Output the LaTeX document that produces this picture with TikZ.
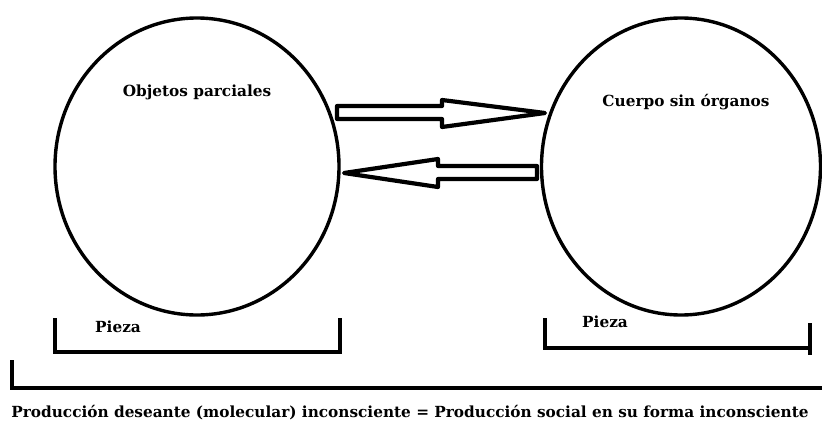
\documentclass[tikz,border=0pt]{standalone}
\usepackage{fontspec}
\setmainfont{DejaVu Serif}
\usetikzlibrary{shapes.geometric,calc}
\begin{document}
\begin{tikzpicture}[x=1pt,y=-1pt]
        \tikzset{blob/.style = {shape=ellipse,draw,line width=3.4pt,inner sep=0pt}}
        \tikzset{label/.style = {font=\bfseries\fontsize{15.3}{17}\selectfont,inner sep=0pt}}
        \tikzset{thick line/.style = {line width=4.2pt}}
        \useasboundingbox (0,0) rectangle (822,434);
        % the two circles
        \node[blob,minimum width=284pt,minimum height=297pt] (op) at (197,166.5) {};
        \node[blob,minimum width=279pt,minimum height=297pt] (cso) at (681,166.5) {};
        \node[label] (opt) at (197,92) {Objetos parciales};
        \node[label] (csot) at (686,102) {Cuerpo sin órganos};
        % hollow arrows between them
        \coordinate (a1) at (337,112.5);
        \coordinate (a2) at (545,113);
        \coordinate (b1) at (537,172.5);
        \coordinate (b2) at (344,173);
        \draw[thick line,line join=round] ($(a1)+(0,-6.5)$) -- (442,106) -- (442,100) -- (a2)
             -- (442,127) -- (442,119) -- ($(a1)+(0,6.5)$) -- cycle;
        \draw[thick line,line join=round] ($(b1)+(0,-6.5)$) -- (438,166) -- (438,159) -- (b2)
             -- (438,187) -- (438,179) -- ($(b1)+(0,6.5)$) -- cycle;
        % brackets under each circle
        \coordinate (l1) at (55,318);
        \coordinate (l2) at (340,318);
        \draw[thick line] (l1) -- (55,352) -- (340,352) -- (l2);
        \node[label,anchor=west] (p1) at (95,327) {Pieza};
        \coordinate (r1) at (545,318);
        \coordinate (r2) at (810,323);
        \draw[thick line] (r1) -- (545,348) -- (810,348) -- (810,355);
        \draw[thick line] (r2) -- (810,348);
        \node[label,anchor=west] (p2) at (582,322) {Pieza};
        % the long bracket
        \coordinate (g1) at (12,360);
        \coordinate (g2) at (822,388);
        \draw[thick line] (g1) -- (12,388) -- (g2);
        \node[label] (prod) at (410,413) {Producción deseante (molecular) inconsciente = Producción social en su forma inconsciente};
\end{tikzpicture}
\end{document}
